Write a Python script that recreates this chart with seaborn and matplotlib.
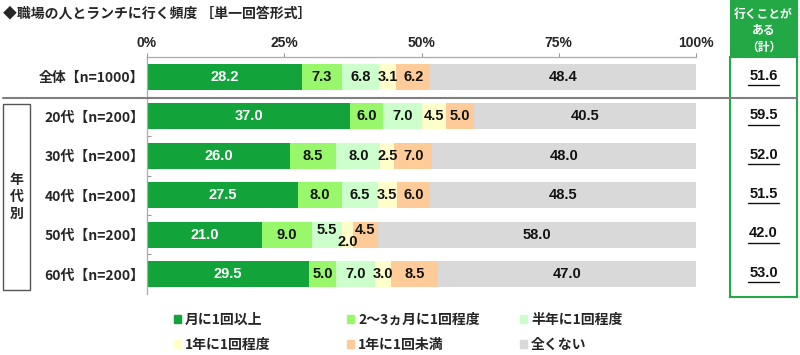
import numpy as np
import matplotlib.pyplot as plt
import matplotlib.patches as mpatches
from matplotlib.lines import Line2D
import seaborn as sns

# Data
groups = ["全体【n=1000】", "20代【n=200】", "30代【n=200】",
          "40代【n=200】", "50代【n=200】", "60代【n=200】"]
categories = ["月に1回以上", "2～3ヵ月に1回程度", "半年に1回程度",
              "1年に1回程度", "1年に1回未満", "全くない"]
monthly = [28.2, 37.0, 26.0, 27.5, 21.0, 29.5]
every_2_3_months = [7.3, 6.0, 8.5, 8.0, 9.0, 5.0]
half_year = [6.8, 7.0, 8.0, 6.5, 5.5, 7.0]
once_a_year = [3.1, 4.5, 2.5, 3.5, 2.0, 3.0]
less_than_yearly = [6.2, 5.0, 7.0, 6.0, 4.5, 8.5]
never = [48.4, 40.5, 48.0, 48.5, 58.0, 47.0]
ever_total = [51.6, 59.5, 52.0, 51.5, 42.0, 53.0]
x_ticks = [0, 25, 50, 75, 100]

colors = ["#12A43B", "#99F76B", "#CCFFCC", "#FFFFCC", "#FFCC99", "#D9D9D9"]
green = "#22A845"

sns.set_style("white")
plt.rcParams['font.family'] = ['Noto Sans CJK JP', 'DejaVu Sans']
num_font = ['Liberation Sans', 'DejaVu Sans']

fig = plt.figure(figsize=(8, 3.55), dpi=100)
W, H = 800, 355
ax = fig.add_axes([147 / W, 1 - 293.75 / H, 549 / W, (293.75 - 57.25) / H])

series = [monthly, every_2_3_months, half_year, once_a_year, less_than_yearly, never]
cum = np.cumsum(np.array(series), axis=0)

# stacked bars: draw cumulative totals from the back to the front
for k in reversed(range(len(series))):
    sns.barplot(x=cum[k], y=groups, orient='h', color=colors[k], width=0.66,
                saturation=1, errorbar=None, linewidth=0, ax=ax)

# segment labels (50代 small segments are staggered)
offsets = {(4, 2): -0.13, (4, 3): 0.18, (4, 4): -0.13}
for i in range(len(groups)):
    for k in range(len(series)):
        v = series[k][i]
        xc = cum[k][i] - v / 2
        ax.text(xc, i + offsets.get((i, k), 0), f"{v:.1f}", ha='center', va='center',
                color='white' if k == 0 else '#111111', fontsize=10.5,
                fontweight='bold', family=num_font)

ax.set_xlim(0, 100)
ax.set_ylim(5.5, -0.5)
ax.set_xlabel("")
ax.set_ylabel("")
ax.xaxis.tick_top()
ax.set_xticks(x_ticks)
ax.set_xticklabels([f"{t}%" for t in x_ticks], fontweight='bold', fontsize=10,
                   family=num_font)
ax.tick_params(axis='x', top=True, length=3, width=0.8, color='#999999', pad=2)
ax.tick_params(axis='y', length=0, pad=2)
for lab in ax.get_yticklabels():
    lab.set_fontweight('bold')
    lab.set_fontsize(10)
ax.set_yticks(np.arange(0.5, 5.5, 1), minor=True)
ax.tick_params(axis='y', which='minor', direction='in', length=3, width=0.8,
               color='#999999', left=True)
for s in ['right', 'bottom']:
    ax.spines[s].set_visible(False)
for s in ['top', 'left']:
    ax.spines[s].set_color('#AAAAAA')
    ax.spines[s].set_linewidth(0.9)

# title
fig.text(3 / W, 1 - 13 / H, "◆職場の人とランチに行く頻度 ［単一回答形式］",
         va='center', ha='left', fontsize=10, fontweight='bold')

# separator between total and age groups
fig.add_artist(Line2D([3 / W, 797 / W], [1 - 98 / H] * 2, color='#808080', lw=1.5))

# 年代別 box
fig.add_artist(mpatches.Rectangle((3 / W, 1 - 290 / H), 27 / W, 186 / H,
                                  fill=False, ec='#555555', lw=1))
fig.text(16.5 / W, 1 - 197 / H, "年\n代\n別", ha='center', va='center',
         fontsize=10, fontweight='bold', linespacing=1.25)

# right summary box
ax_h = fig.add_axes([730 / W, 1 - 57 / H, 67 / W, 57 / H])
ax_h.set_facecolor(green)
ax_h.set_xticks([])
ax_h.set_yticks([])
for s in ax_h.spines.values():
    s.set_color(green)
ax_h.text(0.5, 0.46, "行くことが\nある\n（計）", ha='center', va='center',
          color='white', fontsize=8.5, fontweight='bold', linespacing=1.35,
          transform=ax_h.transAxes)

ax_r = fig.add_axes([730 / W, 1 - 297 / H, 67 / W, 240 / H])
ax_r.set_xlim(0, 1)
ax_r.set_ylim(5.5 + 3.25 / 39.5, -0.5 - 0.25 / 39.5)
ax_r.set_xticks([])
ax_r.set_yticks([])
for s in ax_r.spines.values():
    s.set_color(green)
    s.set_linewidth(1.5)
for i, v in enumerate(ever_total):
    ax_r.text(0.5, i - 0.03, f"{v:.1f}", ha='center', va='center', fontsize=10.5,
              fontweight='bold', family=num_font, color='#111111')
    ax_r.plot([0.5 - 0.23, 0.5 + 0.23], [i + 0.21] * 2, color='#111111', lw=1)

# legend: three columns of two entries
handles = [mpatches.Patch(color=c, label=l) for c, l in zip(colors, categories)]
col_x = [174, 347, 520]
for j in range(3):
    fig.legend(handles=[handles[j], handles[j + 3]], loc='upper left',
               bbox_to_anchor=(col_x[j] / W, 1 - 313 / H), frameon=False,
               prop={'weight': 'bold', 'size': 10}, handlelength=0.5,
               handleheight=0.5, handletextpad=0.3, labelspacing=0.8,
               borderpad=0, borderaxespad=0)

fig.savefig("out.png", dpi=100)
